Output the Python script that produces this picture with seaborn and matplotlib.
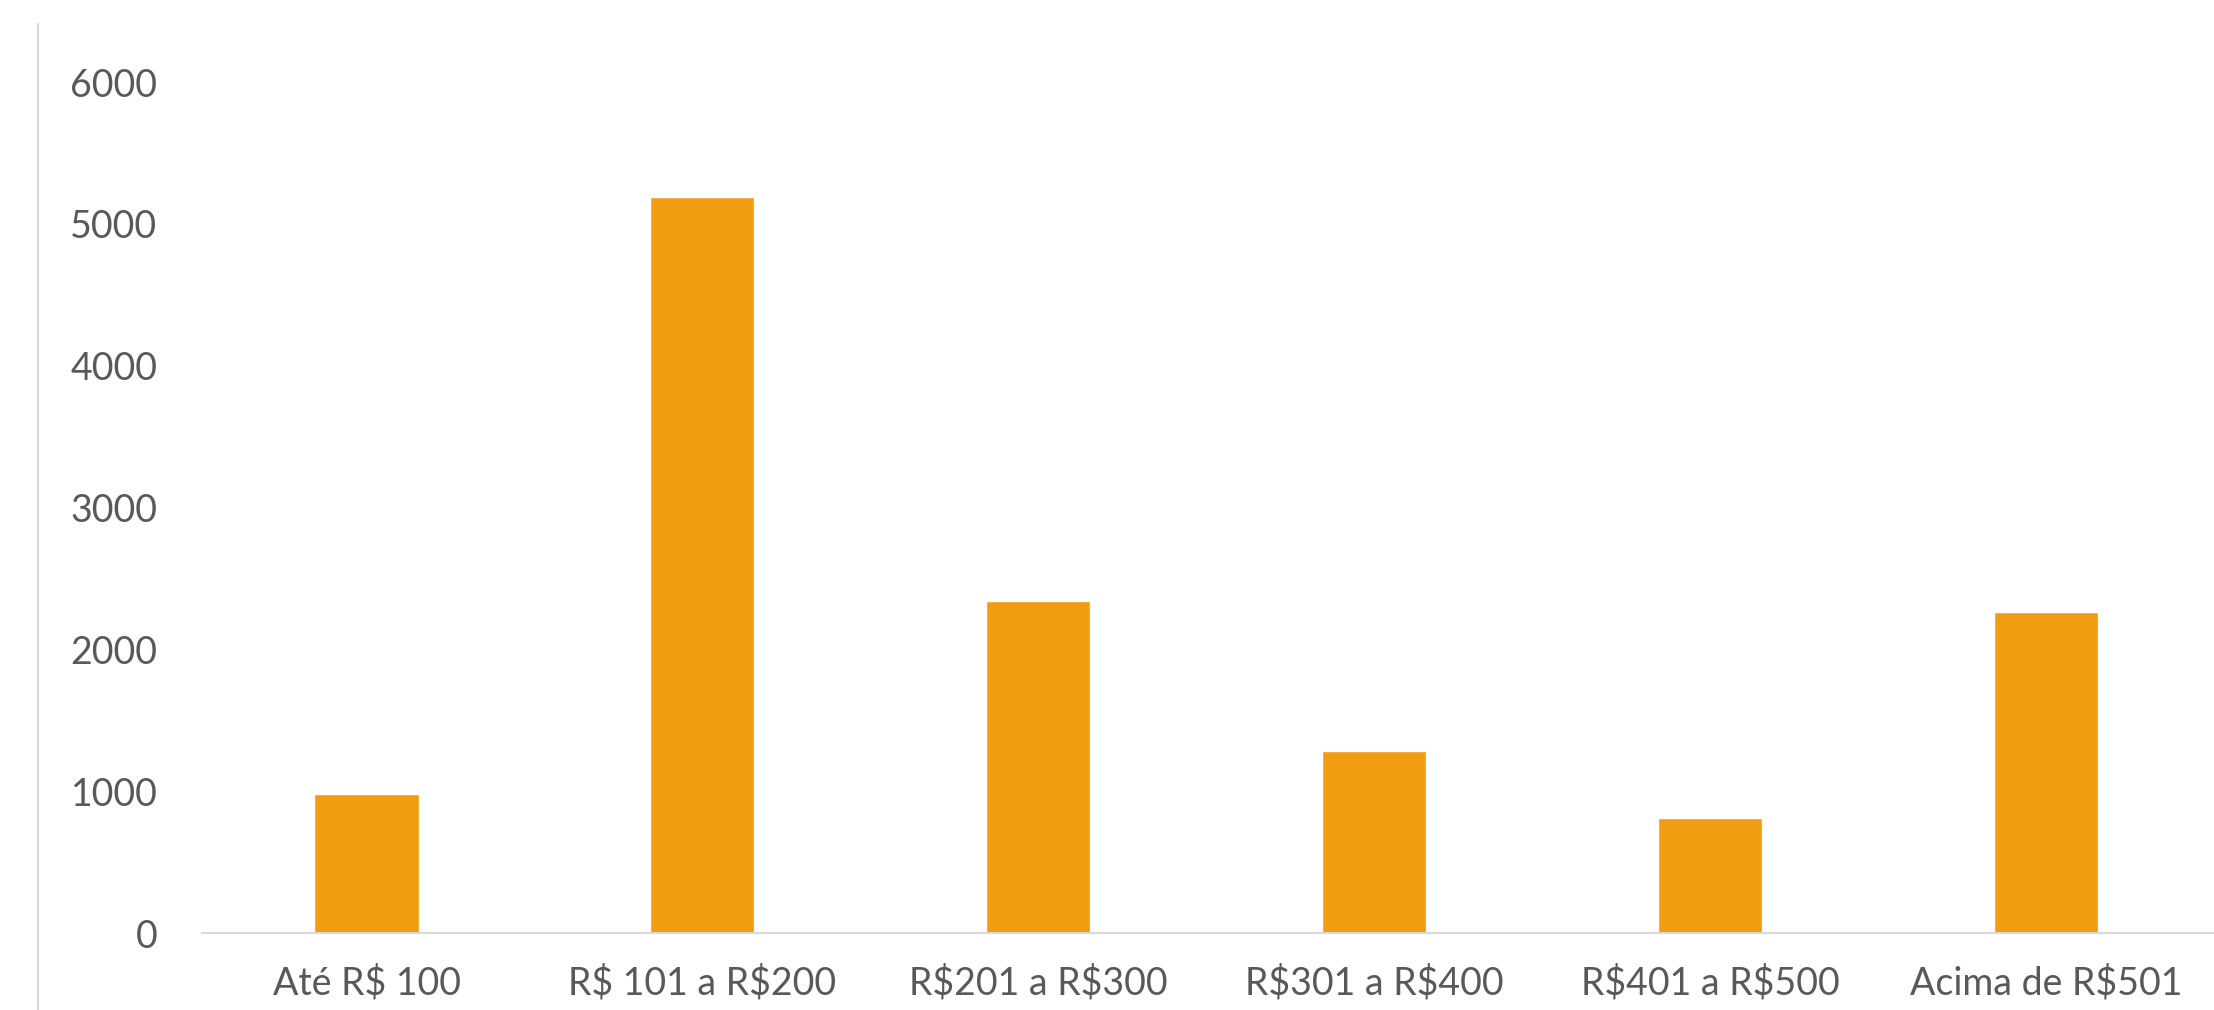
import matplotlib
matplotlib.use('agg')
import matplotlib.pyplot as plt
from matplotlib.lines import Line2D
import pandas as pd
import seaborn as sns

faixas = ["Até R$ 100", "R$ 101 a R$200", "R$201 a R$300",
          "R$301 a R$400", "R$401 a R$500", "Acima de R$501"]
quantidade = [980, 5190, 2340, 1285, 810, 2265]
yticks = [0, 1000, 2000, 3000, 4000, 5000, 6000]

sns.set_style("white")
plt.rcParams['font.family'] = ['Lato', 'DejaVu Sans']
plt.rcParams['text.parse_math'] = False

df = pd.DataFrame({"faixa": faixas, "qtd": quantidade})

fig = plt.figure(figsize=(22.14, 10.10), dpi=100)
ax = fig.add_axes([0.0912, 0.0762, 0.9088, 0.8426])

sns.barplot(x="faixa", y="qtd", data=df, color="#F29C11", saturation=1,
            width=0.31, ax=ax)

ax.set_ylim(0, 6000)
ax.set_xlim(-0.49, 5.5)
ax.set_yticks(yticks)
ax.set(xlabel='', ylabel='')

for s in ["top", "right", "left"]:
    ax.spines[s].set_visible(False)
ax.spines["bottom"].set_color("#D9D9D9")
ax.spines["bottom"].set_linewidth(1.5)

ax.tick_params(axis='y', length=0, pad=32, labelsize=27, labelcolor="#595959")
ax.tick_params(axis='x', length=0, pad=23, labelsize=27, labelcolor="#595959")

# thin grey border line on the left of the image
fig.add_artist(Line2D([38 / 2214, 38 / 2214], [0, 1 - 24 / 1010],
                      transform=fig.transFigure, color="#D9D9D9", linewidth=1.5))

fig.savefig("out.png", dpi=100)
